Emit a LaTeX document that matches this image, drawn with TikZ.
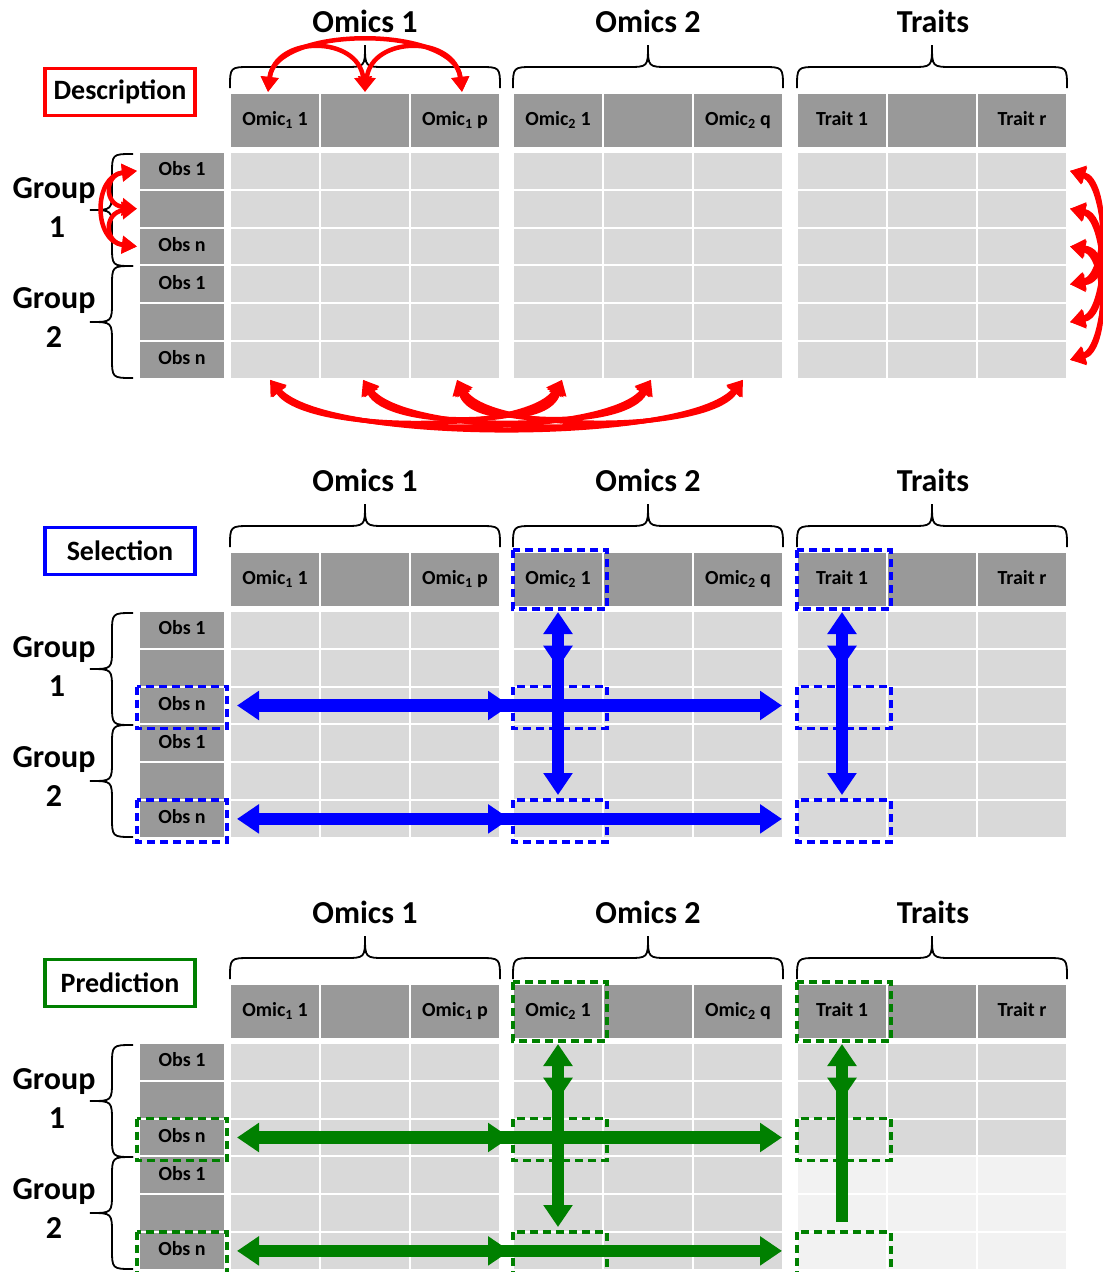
\documentclass[tikz,border=0pt]{standalone}
\usepackage{fontspec}
\setmainfont{Carlito}
\usetikzlibrary{arrows.meta}
\definecolor{dgray}{HTML}{999999}
\definecolor{lgray}{HTML}{D9D9D9}
\definecolor{vlgray}{HTML}{F2F2F2}
\definecolor{myred}{HTML}{FF0000}
\definecolor{myblue}{HTML}{0000FF}
\definecolor{mygreen}{HTML}{008000}
\tikzset{
  rtip/.tip={Triangle[length=15pt,width=17pt]},
  btip/.tip={Triangle[length=22pt,width=28pt]},
}
\begin{document}
\begin{tikzpicture}[x=1pt,y=-1pt,
  cellbase/.style={rectangle, inner sep=0pt, outer sep=0pt, minimum width=88pt, minimum height=35.8pt, text height=13.5pt, text depth=4pt, font=\fontsize{20}{20}\selectfont\bfseries},
  hdr/.style={cellbase, fill=dgray, minimum height=53pt},
  obs/.style={cellbase, fill=dgray, minimum width=84pt},
  dat/.style={cellbase, fill=lgray},
  ttl/.style={font=\fontsize{32}{32}\selectfont\bfseries, inner sep=0pt, anchor=base},
  grp/.style={font=\fontsize{32}{32}\selectfont\bfseries, inner sep=0pt, anchor=base},
  labbox/.style={draw=#1, line width=3.5pt, fill=white, minimum width=150pt, minimum height=47pt, inner sep=0pt, font=\fontsize{28}{28}\selectfont\bfseries},
  bracepath/.style={draw=black, line width=1.8pt},
  redarr/.style={draw=myred, line width=4.5pt, rtip-rtip},
  bigarr/.style={draw=#1, line width=12.5pt},
  selbox/.style={draw=#1, line width=3.5pt, dash pattern=on 8pt off 5pt},
]
\useasboundingbox (0,0) rectangle (1103,1272);
\fill[white] (0,0) rectangle (1103,1272);

\foreach \pk/\oy/\lab/\pcol in {1/0/Description/myred,2/459/Selection/myblue,3/891/Prediction/mygreen}{
  \node[labbox=\pcol] (lab\pk) at (120,92+\oy) {\lab};
  \node[ttl] (ta\pk) at (365,32+\oy) {Omics 1};
  \node[ttl] (tb\pk) at (648,32+\oy) {Omics 2};
  \node[ttl] (tc\pk) at (933,32+\oy) {Traits};
  \foreach \gi/\gx/\hta/\htb in {1/231/{Omic\textsubscript{1} 1}/{Omic\textsubscript{1} p},2/514/{Omic\textsubscript{2} 1}/{Omic\textsubscript{2} q},3/798/{Trait 1}/{Trait r}}{
    \draw[bracepath] (\gx-1,88+\oy) .. controls (\gx-1,67+\oy) .. (\gx+20,67+\oy) -- (\gx+113,67+\oy) .. controls (\gx+134,67+\oy) .. (\gx+134,45+\oy) .. controls (\gx+134,67+\oy) .. (\gx+155,67+\oy) -- (\gx+248,67+\oy) .. controls (\gx+269,67+\oy) .. (\gx+269,88+\oy);
    \node[hdr] (h\pk-\gi-1) at (\gx+44,120.5+\oy) {\hta};
    \node[hdr] (h\pk-\gi-2) at (\gx+134,120.5+\oy) {};
    \node[hdr] (h\pk-\gi-3) at (\gx+224,120.5+\oy) {\htb};
    \foreach \ci in {1,2,3}{
      \foreach \ri in {1,...,6}{
        \def\fc{lgray}
        \ifnum\pk=3 \ifnum\gi=3 \ifnum\ri>3 \def\fc{vlgray}\fi\fi\fi
        \node[dat,fill=\fc] (d\pk-\gi-\ci-\ri) at (\gx+44+90*\ci-90,170.9+37.8*\ri-37.8+\oy) {};
      }
    }
  }
  \foreach \ri/\otxt in {1/Obs 1,2/{},3/Obs n,4/Obs 1,5/{},6/Obs n}{
    \node[obs] (o\pk-\ri) at (182,170.9+37.8*\ri-37.8+\oy) {\otxt};
  }
  \foreach \yt in {154,266}{
    \draw[bracepath] (133,\yt+\oy) .. controls (112,\yt+\oy) .. (112,\yt+21+\oy) -- (112,\yt+35+\oy) .. controls (112,\yt+56+\oy) .. (90,\yt+56+\oy) .. controls (112,\yt+56+\oy) .. (112,\yt+77+\oy) -- (112,\yt+91+\oy) .. controls (112,\yt+112+\oy) .. (133,\yt+112+\oy);
  }
  \node[grp] (ga\pk) at (54,198+\oy) {Group};
  \node[grp] (gb\pk) at (57,237+\oy) {1};
  \node[grp] (gc\pk) at (54,308+\oy) {Group};
  \node[grp] (gd\pk) at (54,347+\oy) {2};
}

% ---- Description arrows (red)
\coordinate (ua) at ([shift={(-7,-2)}]h1-1-1.north);
\coordinate (ub) at ([shift={(0,-2)}]h1-1-2.north);
\coordinate (uc) at ([shift={(7,-2)}]h1-1-3.north);
\draw[redarr] (ua) .. controls +(7,-67) and +(-7,-67) .. (uc);
\draw[redarr] (ua) .. controls +(7,-57) and +(-7,-57) .. (ub);
\draw[redarr] (ub) .. controls +(7,-57) and +(-7,-57) .. (uc);

\coordinate (b1) at ([shift={(-5,2)}]d1-1-1-6.south);
\coordinate (b2) at ([shift={(-2,2)}]d1-1-2-6.south);
\coordinate (b3) at ([shift={(2,2)}]d1-1-3-6.south);
\coordinate (b4) at ([shift={(4,2)}]d1-2-1-6.south);
\coordinate (b5) at ([shift={(3,2)}]d1-2-2-6.south);
\coordinate (b6) at ([shift={(5,2)}]d1-2-3-6.south);
\foreach \ii/\xi in {1/270,2/363,3/457}{
  \foreach \jj/\xj in {4/562,5/651,6/743}{
    \pgfmathsetmacro\spn{\xj-\xi}
    \pgfmathsetmacro\ddy{(408+0.042*\spn-95)/0.75-380}
    \pgfmathsetmacro\ddx{0.12*\spn}
    \draw[redarr] (b\ii) .. controls +(\ddx,\ddy) and +(-\ddx,\ddy) .. (b\jj);
  }
}

\foreach \ri in {1,2,3}{
  \coordinate (l\ri) at ([shift={(-3,0)}]o1-\ri.west);
}
\draw[redarr] (l1) .. controls +(-44,5) and +(-44,-5) .. (l3);
\draw[redarr] (l1) .. controls +(-33,4) and +(-33,-4) .. (l2);
\draw[redarr] (l2) .. controls +(-33,4) and +(-33,-4) .. (l3);

\foreach \ri in {1,...,6}{
  \coordinate (r\ri) at ([shift={(4,0)}]d1-3-3-\ri.east);
}
\foreach \ii in {1,2,3}{
  \foreach \jj in {4,5,6}{
    \pgfmathsetmacro\spn{(\jj-\ii)*37.8}
    \pgfmathsetmacro\ddx{(24+0.04*\spn)/0.75}
    \pgfmathsetmacro\ddy{0.08*\spn}
    \draw[redarr] (r\ii) .. controls +(\ddx,\ddy) and +(\ddx,-\ddy) .. (r\jj);
  }
}

% ---- Selection / Prediction
\foreach \pk/\pcol in {2/myblue,3/mygreen}{
  \draw[selbox=\pcol] ([shift={(-1,-3)}]h\pk-2-1.north west) rectangle ([shift={(5,3)}]h\pk-2-1.south east);
  \draw[selbox=\pcol] ([shift={(-1,-3)}]h\pk-3-1.north west) rectangle ([shift={(5,3)}]h\pk-3-1.south east);
  \foreach \ri in {3,6}{
    \draw[selbox=\pcol] ([shift={(-3,-1)}]o\pk-\ri.north west) rectangle ([shift={(3,5)}]o\pk-\ri.south east);
    \draw[selbox=\pcol] ([shift={(-1,-1)}]d\pk-2-1-\ri.north west) rectangle ([shift={(5,5)}]d\pk-2-1-\ri.south east);
    \draw[selbox=\pcol] ([shift={(-1,-1)}]d\pk-3-1-\ri.north west) rectangle ([shift={(5,5)}]d\pk-3-1-\ri.south east);
    \draw[bigarr=\pcol, btip-btip] ([shift={(13,0)}]o\pk-\ri.east) -- ([shift={(-4,0)}]d\pk-2-1-\ri.west);
    \draw[bigarr=\pcol, -btip] ([shift={(-20,0)}]d\pk-2-1-\ri.west) -- (d\pk-2-3-\ri.east);
  }
  \draw[bigarr=\pcol, btip-btip] (d\pk-2-1-1.north) -- (d\pk-2-1-2.center);
  \draw[bigarr=\pcol, -btip] ([shift={(0,-3)}]d\pk-2-1-1.south) -- ([shift={(0,-6)}]d\pk-2-1-6.north);
  \draw[bigarr=\pcol, btip-btip] (d\pk-3-1-1.north) -- (d\pk-3-1-2.center);
}
\draw[bigarr=myblue, -btip] ([shift={(0,-3)}]d2-3-1-1.south) -- ([shift={(0,-6)}]d2-3-1-6.north);
\draw[bigarr=mygreen] ([shift={(0,-3)}]d3-3-1-1.south) -- ([shift={(0,-11)}]d3-3-1-6.north);
\end{tikzpicture}
\end{document}
